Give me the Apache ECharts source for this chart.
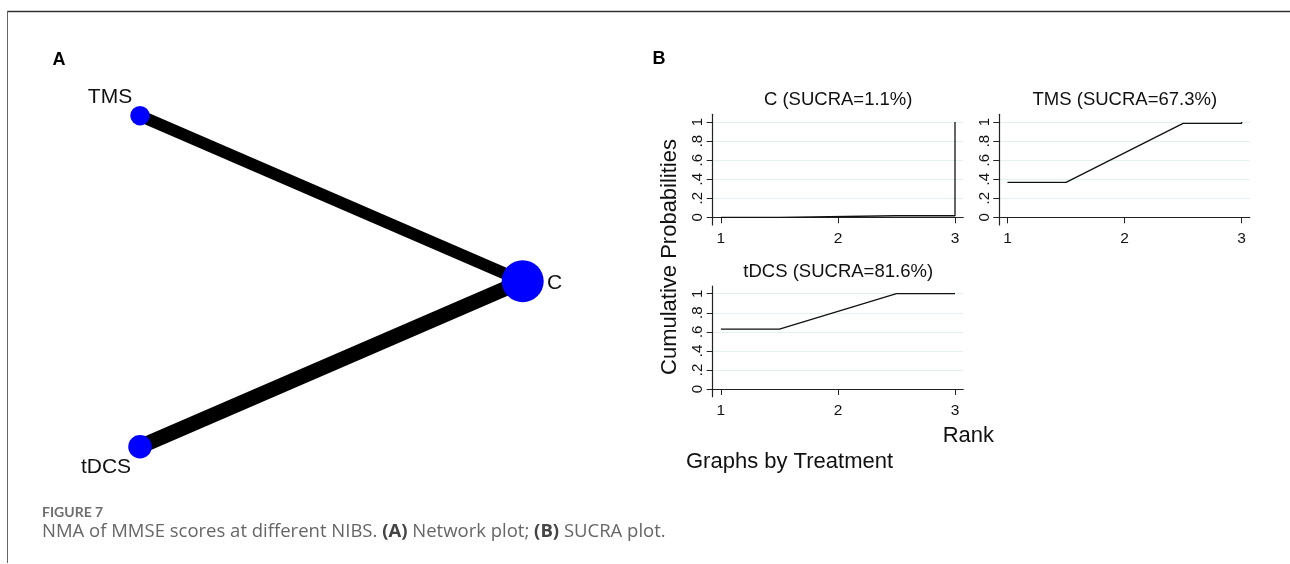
<!DOCTYPE html>
<html>
<head>
<meta charset="utf-8">
<script src="https://cdn.jsdelivr.net/npm/echarts@6/dist/echarts.min.js"></script>
<style>
  html, body { margin: 0; padding: 0; background: #fff; }
  #chart { width: 1290px; height: 564px; }
</style>
</head>
<body>
<div id="chart"></div>
<script>
// network plot (A)
const nodeNames = ['TMS', 'C', 'tDCS'];
const nodeX = [-0.5, 1, -0.5];
const nodeY = [0.866, 0, -0.866];
const edgePairs = [['TMS', 'C'], ['tDCS', 'C']];

// SUCRA plot (B)
const treatments = ['C', 'TMS', 'tDCS'];
const sucraValues = [1.1, 67.3, 81.6];
const rankX = [1, 1.5, 2.5, 3, 3];
const cumProbC = [0, 0, 0.016, 0.016, 1];
const cumProbTMS = [0.367, 0.367, 0.985, 0.985, 1];
const cumProbTDCS = [0.628, 0.628, 1, 1, 1];
const xTicks = [1, 2, 3];
const yTicks = [0, 0.2, 0.4, 0.6, 0.8, 1];

var chart = echarts.init(document.getElementById('chart'), null, { renderer: 'canvas' });

var nodeSize = { TMS: 19.5, C: 42, tDCS: 23.5 };
var nodeLabelOffset = { TMS: [-30, -18], C: [32, 2], tDCS: [-34, 21] };
var edgeWidth = [12, 15];

var FONT = '"Liberation Sans", Arial, sans-serif';
var CAP_FONT = '"Open Sans", Lato, sans-serif';
var lineColor = '#222';

function pt(name) {
  var i = nodeNames.indexOf(name);
  return [nodeX[i], nodeY[i]];
}

function fmtTick(v) {
  if (v === 0) return '0';
  if (v === 1) return '1';
  return String(Math.round(v * 10) / 10).replace(/^0/, '');
}

// sub plot grids, left/top in px
var subGrids = [
  { left: 712.7, top: 114.3 },
  { left: 999.3, top: 114.3 },
  { left: 712.7, top: 286 }
];
var probs = [cumProbC, cumProbTMS, cumProbTDCS];

var grids = [{ left: 140, top: 115.7, width: 382.7, height: 331 }];
var xAxes = [{ gridIndex: 0, type: 'value', min: -0.5, max: 1, show: false }];
var yAxes = [{ gridIndex: 0, type: 'value', min: -0.866, max: 0.866, show: false }];
var series = [];

edgePairs.forEach(function (e, i) {
  series.push({
    type: 'line',
    xAxisIndex: 0, yAxisIndex: 0,
    data: [pt(e[0]), pt(e[1])],
    symbol: 'none',
    clip: false,
    lineStyle: { color: '#000', width: edgeWidth[i], cap: 'butt' },
    z: 1
  });
});

series.push({
  type: 'scatter',
  xAxisIndex: 0, yAxisIndex: 0,
  clip: false,
  z: 3,
  data: nodeNames.map(function (n, i) {
    return {
      name: n,
      value: [nodeX[i], nodeY[i]],
      symbolSize: nodeSize[n],
      label: {
        show: true,
        formatter: n,
        position: 'inside',
        offset: nodeLabelOffset[n],
        color: '#111',
        fontSize: 21,
        fontFamily: FONT
      }
    };
  }),
  itemStyle: { color: '#0000ff', opacity: 1 }
});

var graphics = [];

subGrids.forEach(function (g, k) {
  var gi = k + 1;
  grids.push({ left: g.left, top: g.top, width: 250.5, height: 110.7 });
  xAxes.push({
    gridIndex: gi, type: 'value', min: 0.93, max: 3.07,
    axisLine: { show: true, lineStyle: { color: lineColor, width: 1.2 } },
    axisTick: { show: true, length: 6, customValues: xTicks, lineStyle: { color: lineColor } },
    axisLabel: { customValues: xTicks, margin: 6, fontSize: 15.5, color: '#111', fontFamily: FONT },
    splitLine: { show: false }
  });
  yAxes.push({
    gridIndex: gi, type: 'value', min: -0.081, max: 1.081,
    axisLine: { show: true, lineStyle: { color: lineColor, width: 1.2 } },
    axisTick: { show: true, length: 6, customValues: yTicks, lineStyle: { color: lineColor } },
    axisLabel: {
      customValues: yTicks, rotate: 90, margin: 7, fontSize: 15, color: '#111',
      fontFamily: FONT, formatter: fmtTick
    },
    splitLine: { show: true, lineStyle: { color: '#e6eff1', width: 1 } }
  });
  series.push({
    type: 'line',
    xAxisIndex: gi, yAxisIndex: gi,
    data: rankX.map(function (r, j) { return [r, probs[k][j]]; }),
    symbol: 'none',
    clip: false,
    lineStyle: { color: '#111', width: 1.3 }
  });
  graphics.push({
    type: 'text',
    x: g.left + 125.5, y: g.top - 14.5,
    style: {
      text: treatments[k] + ' (SUCRA=' + sucraValues[k] + '%)',
      fontSize: 18.5, fontFamily: FONT, fill: '#111',
      textAlign: 'center', textVerticalAlign: 'middle'
    }
  });
});

graphics.push(
  // frame
  { type: 'line', shape: { x1: 7, y1: 11.5, x2: 1290, y2: 11.5 }, style: { stroke: '#333', lineWidth: 1.5 } },
  { type: 'line', shape: { x1: 7.5, y1: 11, x2: 7.5, y2: 563 }, style: { stroke: '#666', lineWidth: 1 } },
  // panel letters
  { type: 'text', x: 59, y: 60, style: { text: 'A', fontSize: 18, fontWeight: 'bold', fontFamily: FONT, fill: '#000', textAlign: 'center', textVerticalAlign: 'middle' } },
  { type: 'text', x: 659, y: 59, style: { text: 'B', fontSize: 18, fontWeight: 'bold', fontFamily: FONT, fill: '#000', textAlign: 'center', textVerticalAlign: 'middle' } },
  // axis titles
  { type: 'text', x: 670, y: 257, rotation: Math.PI / 2, style: { text: 'Cumulative Probabilities', fontSize: 22, fontFamily: FONT, fill: '#111', textAlign: 'center', textVerticalAlign: 'middle' } },
  { type: 'text', x: 994, y: 436, style: { text: 'Rank', fontSize: 22, fontFamily: FONT, fill: '#111', textAlign: 'right', textVerticalAlign: 'middle' } },
  { type: 'text', x: 686, y: 462, style: { text: 'Graphs by Treatment', fontSize: 22, fontFamily: FONT, fill: '#111', textAlign: 'left', textVerticalAlign: 'middle' } },
  // caption
  { type: 'text', x: 42, y: 512, style: { text: 'FIGURE 7', fontSize: 14, fontWeight: 'bold', fontFamily: 'Lato, "Open Sans", sans-serif', fill: '#6e6e6e', textVerticalAlign: 'middle' } },
  {
    type: 'text', x: 42, y: 532,
    style: {
      text: 'NMA of MMSE scores at different NIBS. {b|(A)} Network plot; {b|(B)} SUCRA plot.',
      fontSize: 18.5, fontFamily: CAP_FONT, fill: '#666', textVerticalAlign: 'middle',
      rich: { b: { fontSize: 18.5, fontWeight: 'bold', fontFamily: CAP_FONT, fill: '#444' } }
    }
  }
);

var option = {
  animation: false,
  backgroundColor: '#fff',
  grid: grids,
  xAxis: xAxes,
  yAxis: yAxes,
  series: series,
  graphic: graphics
};

chart.setOption(option);
</script>
</body>
</html>
